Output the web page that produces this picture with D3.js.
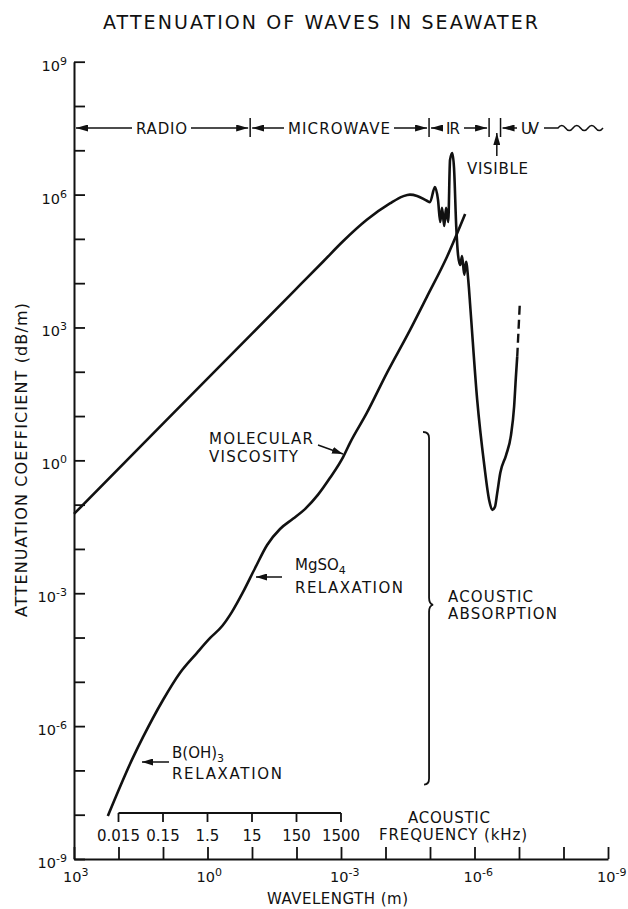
<!DOCTYPE html>
<html><head><meta charset="utf-8">
<script src="https://cdn.jsdelivr.net/npm/d3@7"></script>
<style>
html,body{margin:0;padding:0;background:#fff;}
svg text{font-family:"DejaVu Sans",sans-serif;fill:#111;}
</style></head><body>
<svg id="chart" width="628" height="909"></svg>
<script>
// ---------------- DATA ----------------
const xTickExponents = [3,2,1,0,-1,-2,-3,-4,-5,-6,-7,-8,-9];
const xLabelExponents = [3,0,-3,-6,-9];
const yTickExponents = [9,8,7,6,5,4,3,2,1,0,-1,-2,-3,-4,-5,-6,-7,-8,-9];
const yLabelExponents = [9,6,3,0,-3,-6,-9];

const freqLabels = ["0.015","0.15","1.5","15","150","1500"];
const freqWavelengths = [1e2,1e1,1e0,1e-1,1e-2,1e-3];

const bandNames = ["RADIO","MICROWAVE","IR","UV"];
// boundaries (m): radio|microwave, microwave|IR, IR|visible, visible|UV
const bandEdges = [1.1e-1, 1.05e-5, 4.7e-7, 2.6e-7];

// Electromagnetic attenuation (log10 wavelength, log10 dB/m)
const emLogWavelength = [3.0,1.0,-1.0,-2.08,-2.6,-3.04,-3.58,-4.10,-4.39,-4.55,-4.71,-4.93,-5.00,-5.11,-5.18,-5.23,-5.27,-5.32,-5.36,-5.41,-5.45,-5.50,-5.54,-5.59,-5.63,-5.68,-5.72,-5.77,-5.81,-5.86,-5.91,-6.06,-6.22,-6.33,-6.40,-6.46,-6.51,-6.58,-6.71,-6.82,-6.89,-6.93,-6.96];
const emLogAttenuation = [-1.21,0.83,2.86,3.96,4.49,4.94,5.43,5.80,5.96,6.00,5.97,5.86,5.83,6.17,5.88,5.38,5.70,5.29,5.70,5.38,6.78,6.94,6.60,5.27,4.64,4.41,4.61,4.19,4.48,4.07,3.40,1.37,-0.11,-0.90,-1.12,-1.05,-0.74,-0.28,0.12,0.57,1.21,1.88,2.34];
// dashed (uncertain) UV extension
const uvLogWavelength = [-6.96,-7.02];
const uvLogAttenuation = [2.34,3.58];

// Acoustic absorption (log10 wavelength, log10 dB/m)
const acLogWavelength = [2.24,1.67,1.45,1.00,0.62,0.24,-0.06,-0.33,-0.55,-0.80,-1.07,-1.34,-1.63,-1.92,-2.19,-2.48,-2.75,-3.05,-3.20,-3.58,-4.03,-4.55,-4.93,-5.38,-5.79];
const acLogAttenuation = [-8.03,-6.70,-6.25,-5.41,-4.80,-4.35,-4.01,-3.74,-3.42,-2.97,-2.43,-1.91,-1.55,-1.32,-1.10,-0.78,-0.40,0.08,0.39,1.07,1.97,2.94,3.69,4.59,5.56];

// ---------------- CHART ----------------
const svg = d3.select("#chart");
const x = d3.scaleLog().domain([1e3,1e-9]).range([74,608]);
const y = d3.scaleLog().domain([1e-9,1e9]).range([859,61.7]);

const defs = svg.append("defs");
defs.append("marker").attr("id","ah").attr("viewBox","0 0 12 7").attr("refX",12).attr("refY",3.5)
  .attr("markerWidth",12).attr("markerHeight",7).attr("markerUnits","userSpaceOnUse").attr("orient","auto")
  .append("path").attr("d","M0,0L12,3.5L0,7Z").attr("fill","#111");
defs.append("marker").attr("id","ah2").attr("viewBox","0 0 11 7").attr("refX",11).attr("refY",3.5)
  .attr("markerWidth",11).attr("markerHeight",7).attr("markerUnits","userSpaceOnUse").attr("orient","auto")
  .append("path").attr("d","M0,0L11,3.5L0,7Z").attr("fill","#111");

// title
svg.append("text").attr("x",320.5).attr("y",29).attr("text-anchor","middle")
  .attr("font-size",19).attr("textLength",435).attr("lengthAdjust","spacing")
  .text("ATTENUATION OF WAVES IN SEAWATER");

// y axis
const yAxis = d3.axisLeft(y).tickValues(yTickExponents.map(e=>Math.pow(10,e)))
  .tickSizeInner(-11).tickSizeOuter(0).tickFormat(()=>"");
const gy = svg.append("g").attr("transform",`translate(${x.range()[0]},0)`).call(yAxis);
gy.select(".domain").attr("stroke","#111").attr("stroke-width",2);
gy.selectAll(".tick line").attr("stroke","#111").attr("stroke-width",1.8);

yLabelExponents.forEach(e=>{
  const t = svg.append("text").attr("x",67).attr("y",y(Math.pow(10,e))+9)
    .attr("text-anchor","end").attr("font-size",14.5);
  t.append("tspan").text("10");
  t.append("tspan").attr("dy",-6).attr("font-size",11).text(String(e));
});

// x axis
const xAxis = d3.axisBottom(x).tickValues(xTickExponents.map(e=>Math.pow(10,e)))
  .tickSizeInner(-12).tickSizeOuter(0).tickFormat(()=>"");
const gx = svg.append("g").attr("transform",`translate(0,${y.range()[0]})`).call(xAxis);
gx.select(".domain").attr("stroke","#111").attr("stroke-width",2);
gx.selectAll(".tick line").attr("stroke","#111").attr("stroke-width",1.8);

xLabelExponents.forEach(e=>{
  const t = svg.append("text").attr("x",x(Math.pow(10,e))-11).attr("y",882)
    .attr("font-size",14.5);
  t.append("tspan").text("10");
  t.append("tspan").attr("dy",-6).attr("font-size",11).text(String(e));
});

svg.append("text").attr("x",337.5).attr("y",904).attr("text-anchor","middle")
  .attr("font-size",15).attr("textLength",141).attr("lengthAdjust","spacing")
  .text("WAVELENGTH (m)");
svg.append("text").attr("transform","translate(27,460) rotate(-90)").attr("text-anchor","middle")
  .attr("font-size",16).attr("textLength",314).attr("lengthAdjust","spacing")
  .text("ATTENUATION COEFFICIENT (dB/m)");

// acoustic frequency scale
const fy = 813;
svg.append("line").attr("x1",x(freqWavelengths[0])).attr("x2",x(freqWavelengths[freqWavelengths.length-1]))
  .attr("y1",fy).attr("y2",fy).attr("stroke","#111").attr("stroke-width",1.8);
freqWavelengths.forEach((w,i)=>{
  svg.append("line").attr("x1",x(w)).attr("x2",x(w)).attr("y1",fy).attr("y2",fy+9)
    .attr("stroke","#111").attr("stroke-width",1.8);
  svg.append("text").attr("x",x(w)).attr("y",841).attr("text-anchor","middle")
    .attr("font-size",15).text(freqLabels[i]);
});
svg.append("text").attr("x",408).attr("y",823).attr("font-size",15)
  .attr("textLength",82).attr("lengthAdjust","spacing").text("ACOUSTIC");
svg.append("text").attr("x",379).attr("y",840).attr("font-size",15)
  .attr("textLength",148).attr("lengthAdjust","spacing").text("FREQUENCY (kHz)");

// band row
const by = 128;
const e0 = x.range()[0];
const ex = bandEdges.map(w=>x(w));
ex.forEach(px=>{
  svg.append("line").attr("x1",px).attr("x2",px).attr("y1",by-10).attr("y2",by+9)
    .attr("stroke","#111").attr("stroke-width",1.5);
});
function arrow(x1,y1,x2,y2,m){
  svg.append("line").attr("x1",x1).attr("y1",y1).attr("x2",x2).attr("y2",y2)
    .attr("stroke","#111").attr("stroke-width",1.5).attr("marker-end",`url(#${m||"ah"})`);
}
function band(name, left, right, cx, w){
  svg.append("text").attr("x",cx).attr("y",by+6).attr("text-anchor","middle").attr("font-size",15)
    .attr("textLength",w).attr("lengthAdjust","spacing").text(name);
  arrow(cx-w/2-4, by, left+2, by);
  if (right!==null) arrow(cx+w/2+4, by, right-2, by);
}
band(bandNames[0], e0, ex[0], 161.5, 51);
band(bandNames[1], ex[0], ex[1], 339, 102);
band(bandNames[2], ex[1], ex[2], 453, 14);
band(bandNames[3], ex[3], null, 530, 18);
svg.append("path").attr("d",`M544,${by}H558q3.75,-5 7.5,0t7.5,0t7.5,0t7.5,0t7.5,0t7.5,0`)
  .attr("fill","none").attr("stroke","#111").attr("stroke-width",1.5);
// visible
arrow((ex[2]+ex[3])/2+2, 156, (ex[2]+ex[3])/2+2, 133);
svg.append("text").attr("x",467).attr("y",174).attr("font-size",15)
  .attr("textLength",61).attr("lengthAdjust","spacing").text("VISIBLE");

// curves
const line = d3.line().x(d=>x(Math.pow(10,d[0]))).y(d=>y(Math.pow(10,d[1])))
  .curve(d3.curveMonotoneX);
svg.append("path").datum(emLogWavelength.map((w,i)=>[w,emLogAttenuation[i]]))
  .attr("d",line).attr("fill","none").attr("stroke","#111").attr("stroke-width",2.6)
  .attr("stroke-linejoin","round");
svg.append("path").datum(uvLogWavelength.map((w,i)=>[w,uvLogAttenuation[i]]))
  .attr("d",line.curve(d3.curveLinear)).attr("fill","none").attr("stroke","#111").attr("stroke-width",2.4)
  .attr("stroke-dasharray","9,5");
line.curve(d3.curveMonotoneX);
svg.append("path").datum(acLogWavelength.map((w,i)=>[w,acLogAttenuation[i]]))
  .attr("d",line).attr("fill","none").attr("stroke","#111").attr("stroke-width",2.6)
  .attr("stroke-linejoin","round");

// annotations
function label(lines, x0, y0, dy){
  lines.forEach((l,i)=>{
    const t = svg.append("text").attr("x",x0).attr("y",y0+i*dy).attr("font-size",15);
    if (l.w) t.attr("textLength",l.w).attr("lengthAdjust","spacing");
    l.parts.forEach(p=>{
      const s = t.append("tspan").text(p.t);
      if (p.sub) s.attr("dy",4).attr("font-size",11);
    });
  });
}
label([{parts:[{t:"MOLECULAR"}],w:104},{parts:[{t:"VISCOSITY"}],w:89}],209,444,18);
arrow(318,445,343,454,"ah2");

label([{parts:[{t:"MgSO"},{t:"4",sub:true}]},{parts:[{t:"RELAXATION"}],w:108}],295,570,23);
arrow(282,577,256,577,"ah2");

label([{parts:[{t:"B(OH)"},{t:"3",sub:true}]},{parts:[{t:"RELAXATION"}],w:110}],172,758,21);
arrow(169,762,142,762,"ah2");

// brace
const bx = x(bandEdges[1]);
const bt = y(Math.pow(10,0.64)), bm = y(Math.pow(10,-3.26)), bb = y(Math.pow(10,-7.32));
svg.append("path").attr("d",
  `M${bx-6},${bt} Q${bx},${bt} ${bx},${bt+6} L${bx},${bm-7} Q${bx},${bm-1} ${bx+4},${bm} Q${bx},${bm+1} ${bx},${bm+7} L${bx},${bb-6} Q${bx},${bb} ${bx-5},${bb}`)
  .attr("fill","none").attr("stroke","#111").attr("stroke-width",1.8);
label([{parts:[{t:"ACOUSTIC"}],w:85},{parts:[{t:"ABSORPTION"}],w:109}],448,602,16.5);
</script>
</body></html>
